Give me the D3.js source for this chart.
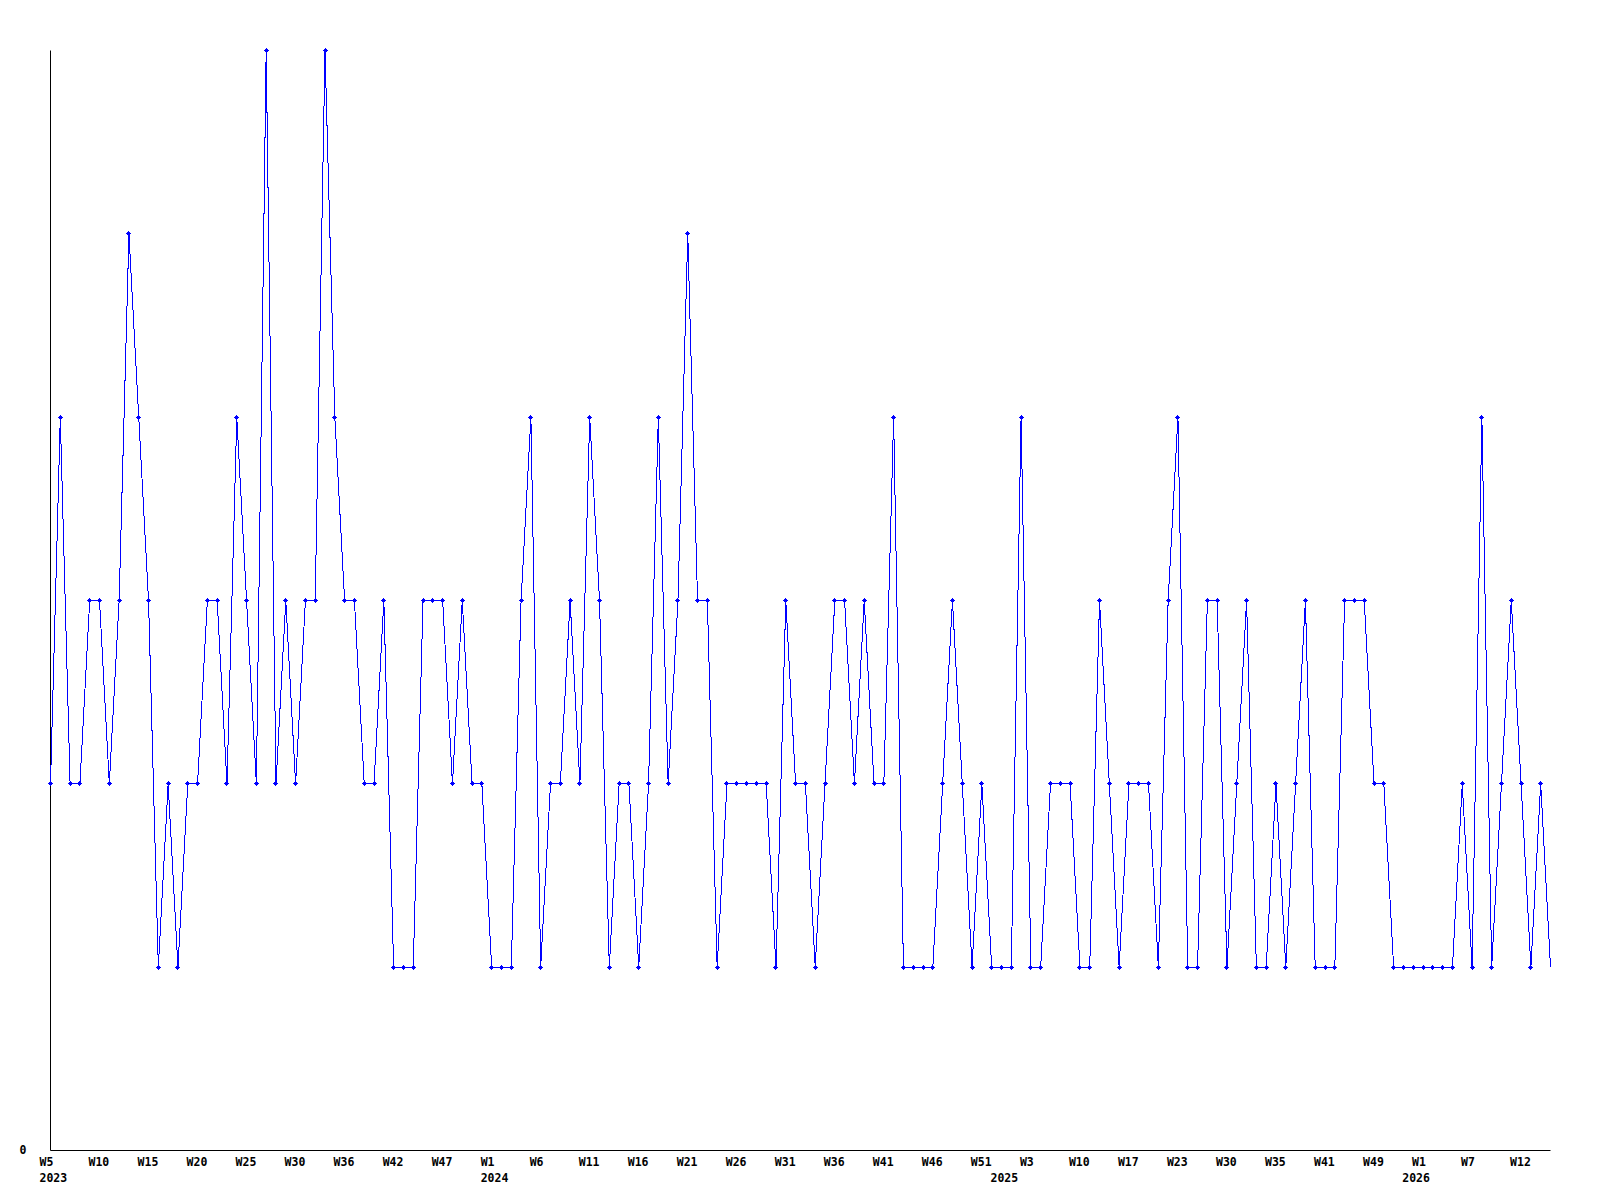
<!DOCTYPE html>
<head>
  <meta charset="utf-8">
  <script src="https://d3js.org/d3.v7.min.js"></script>
  <style>
    body {
      margin: 0;
      background: #fff;
    }

    .axis text {
      font-family: "DejaVu Sans Mono", "Liberation Mono", monospace;
      font-weight: bold;
      font-size: 11.5px;
      fill: #000;
    }
  </style>
</head>

<body>
  <div id="vis"></div>
  <script>

    // one entry per plotted week (weeks without data are not in the list)
    var weeks = [
      "2023-W05", "2023-W06", "2023-W07", "2023-W08", "2023-W09",
      "2023-W10", "2023-W11", "2023-W12", "2023-W13", "2023-W14",
      "2023-W15", "2023-W16", "2023-W17", "2023-W18", "2023-W19",
      "2023-W20", "2023-W21", "2023-W22", "2023-W23", "2023-W24",
      "2023-W25", "2023-W26", "2023-W27", "2023-W28", "2023-W29",
      "2023-W30", "2023-W31", "2023-W32", "2023-W33", "2023-W35",
      "2023-W36", "2023-W37", "2023-W38", "2023-W39", "2023-W41",
      "2023-W42", "2023-W43", "2023-W44", "2023-W45", "2023-W46",
      "2023-W47", "2023-W48", "2023-W49", "2023-W50", "2023-W52",
      "2024-W01", "2024-W02", "2024-W03", "2024-W04", "2024-W05",
      "2024-W06", "2024-W07", "2024-W08", "2024-W09", "2024-W10",
      "2024-W11", "2024-W12", "2024-W13", "2024-W14", "2024-W15",
      "2024-W16", "2024-W17", "2024-W18", "2024-W19", "2024-W20",
      "2024-W21", "2024-W22", "2024-W23", "2024-W24", "2024-W25",
      "2024-W26", "2024-W27", "2024-W28", "2024-W29", "2024-W30",
      "2024-W31", "2024-W32", "2024-W33", "2024-W34", "2024-W35",
      "2024-W36", "2024-W37", "2024-W38", "2024-W39", "2024-W40",
      "2024-W41", "2024-W42", "2024-W43", "2024-W44", "2024-W45",
      "2024-W46", "2024-W47", "2024-W48", "2024-W49", "2024-W50",
      "2024-W51", "2024-W52", "2025-W00", "2025-W01", "2025-W02",
      "2025-W03", "2025-W04", "2025-W06", "2025-W07", "2025-W09",
      "2025-W10", "2025-W11", "2025-W13", "2025-W14", "2025-W16",
      "2025-W17", "2025-W18", "2025-W19", "2025-W21", "2025-W22",
      "2025-W23", "2025-W24", "2025-W26", "2025-W27", "2025-W29",
      "2025-W30", "2025-W31", "2025-W32", "2025-W33", "2025-W34",
      "2025-W35", "2025-W36", "2025-W37", "2025-W38", "2025-W40",
      "2025-W41", "2025-W43", "2025-W44", "2025-W46", "2025-W47",
      "2025-W49", "2025-W50", "2025-W51", "2025-W52", "2026-W00",
      "2026-W01", "2026-W02", "2026-W03", "2026-W05", "2026-W06",
      "2026-W07", "2026-W08", "2026-W09", "2026-W10", "2026-W11",
      "2026-W12", "2026-W13", "2026-W14", "2026-W15"
    ];

    var counts = [
      2, 4, 2, 2, 3, 3, 2, 3, 5, 4,
      3, 1, 2, 1, 2, 2, 3, 3, 2, 4,
      3, 2, 6, 2, 3, 2, 3, 3, 6, 4,
      3, 3, 2, 2, 3, 1, 1, 1, 3, 3,
      3, 2, 3, 2, 2, 1, 1, 1, 3, 4,
      1, 2, 2, 3, 2, 4, 3, 1, 2, 2,
      1, 2, 4, 2, 3, 5, 3, 3, 1, 2,
      2, 2, 2, 2, 1, 3, 2, 2, 1, 2,
      3, 3, 2, 3, 2, 2, 4, 1, 1, 1,
      1, 2, 3, 2, 1, 2, 1, 1, 1, 4,
      1, 1, 2, 2, 2, 1, 1, 3, 2, 1,
      2, 2, 2, 1, 3, 4, 1, 1, 3, 3,
      1, 2, 3, 1, 1, 2, 1, 2, 3, 1,
      1, 1, 3, 3, 3, 2, 2, 1, 1, 1,
      1, 1, 1, 1, 2, 1, 4, 1, 2, 3,
      2, 1, 2, 1
    ];

    var labelEvery = 5;
    var yTicks = [0];

    var width = 1600,
      height = 1200;

    var svg = d3.select("#vis")
      .append("svg")
      .attr("width", width)
      .attr("height", height);

    var x = d3.scalePoint()
      .domain(weeks)
      .range([50, 1550]);

    var y = d3.scaleLinear()
      .domain([0, d3.max(counts)])
      .range([1150, 50]);

    function yearOf(w) { return w.split("-W")[0]; }

    ////////// axes //////////

    var tickWeeks = weeks.filter(function (d, i) { return i % labelEvery == 0; });

    var xAxis = svg.append("g")
      .attr("class", "axis")
      .attr("transform", "translate(0,1150)")
      .call(d3.axisBottom(x)
        .tickValues(tickWeeks)
        .tickSize(0)
        .tickSizeOuter(0)
        .tickFormat(function (d) { return "W" + (+d.split("-W")[1]); }));

    xAxis.attr("font-family", null).attr("font-size", null);
    xAxis.select(".domain").attr("stroke", "#000");

    xAxis.selectAll(".tick text")
      .attr("text-anchor", "start")
      .attr("x", -11)
      .attr("y", 15.5)
      .attr("dy", 0);

    // year under the first week of each year
    var firstOfYear = weeks.filter(function (d, i) {
      return i == 0 || yearOf(d) != yearOf(weeks[i - 1]);
    });

    xAxis.selectAll(".year")
      .data(firstOfYear)
      .enter()
      .append("text")
      .attr("class", "year")
      .attr("text-anchor", "start")
      .attr("x", function (d) { return x(d) + 0.5 - 11; })
      .attr("y", 31.5)
      .text(yearOf);

    var yAxis = svg.append("g")
      .attr("class", "axis")
      .attr("transform", "translate(50,0)")
      .call(d3.axisLeft(y)
        .tickValues(yTicks)
        .tickSize(0)
        .tickSizeOuter(0)
        .tickFormat(d3.format("d")));

    yAxis.attr("font-family", null).attr("font-size", null);
    yAxis.select(".domain").attr("stroke", "#000");
    yAxis.selectAll(".tick text")
      .attr("x", -23.5)
      .attr("dy", 0)
      .attr("y", 3.5);

    ////////// line //////////

    var line = d3.line()
      .x(function (d, i) { return x(weeks[i]); })
      .y(function (d) { return y(d); });

    svg.append("path")
      .datum(counts)
      .attr("class", "line")
      .attr("transform", "translate(0.5,0.5)")
      .attr("d", line)
      .attr("fill", "none")
      .attr("stroke", "#0000ff")
      .attr("stroke-width", 1)
      .attr("shape-rendering", "crispEdges");

    // small plus markers, the last (current) week has none
    var marker = "M-2,0h5v1h-5z M0,-2h1v5h-1z M-1,-1h3v3h-3z";

    svg.append("g")
      .selectAll("path")
      .data(counts.slice(0, -1))
      .enter()
      .append("path")
      .attr("d", marker)
      .attr("transform", function (d, i) {
        return "translate(" + Math.round(x(weeks[i])) + "," + Math.round(y(d)) + ")";
      })
      .attr("fill", "#0000ff")
      .attr("shape-rendering", "crispEdges");

  </script>
</body>
